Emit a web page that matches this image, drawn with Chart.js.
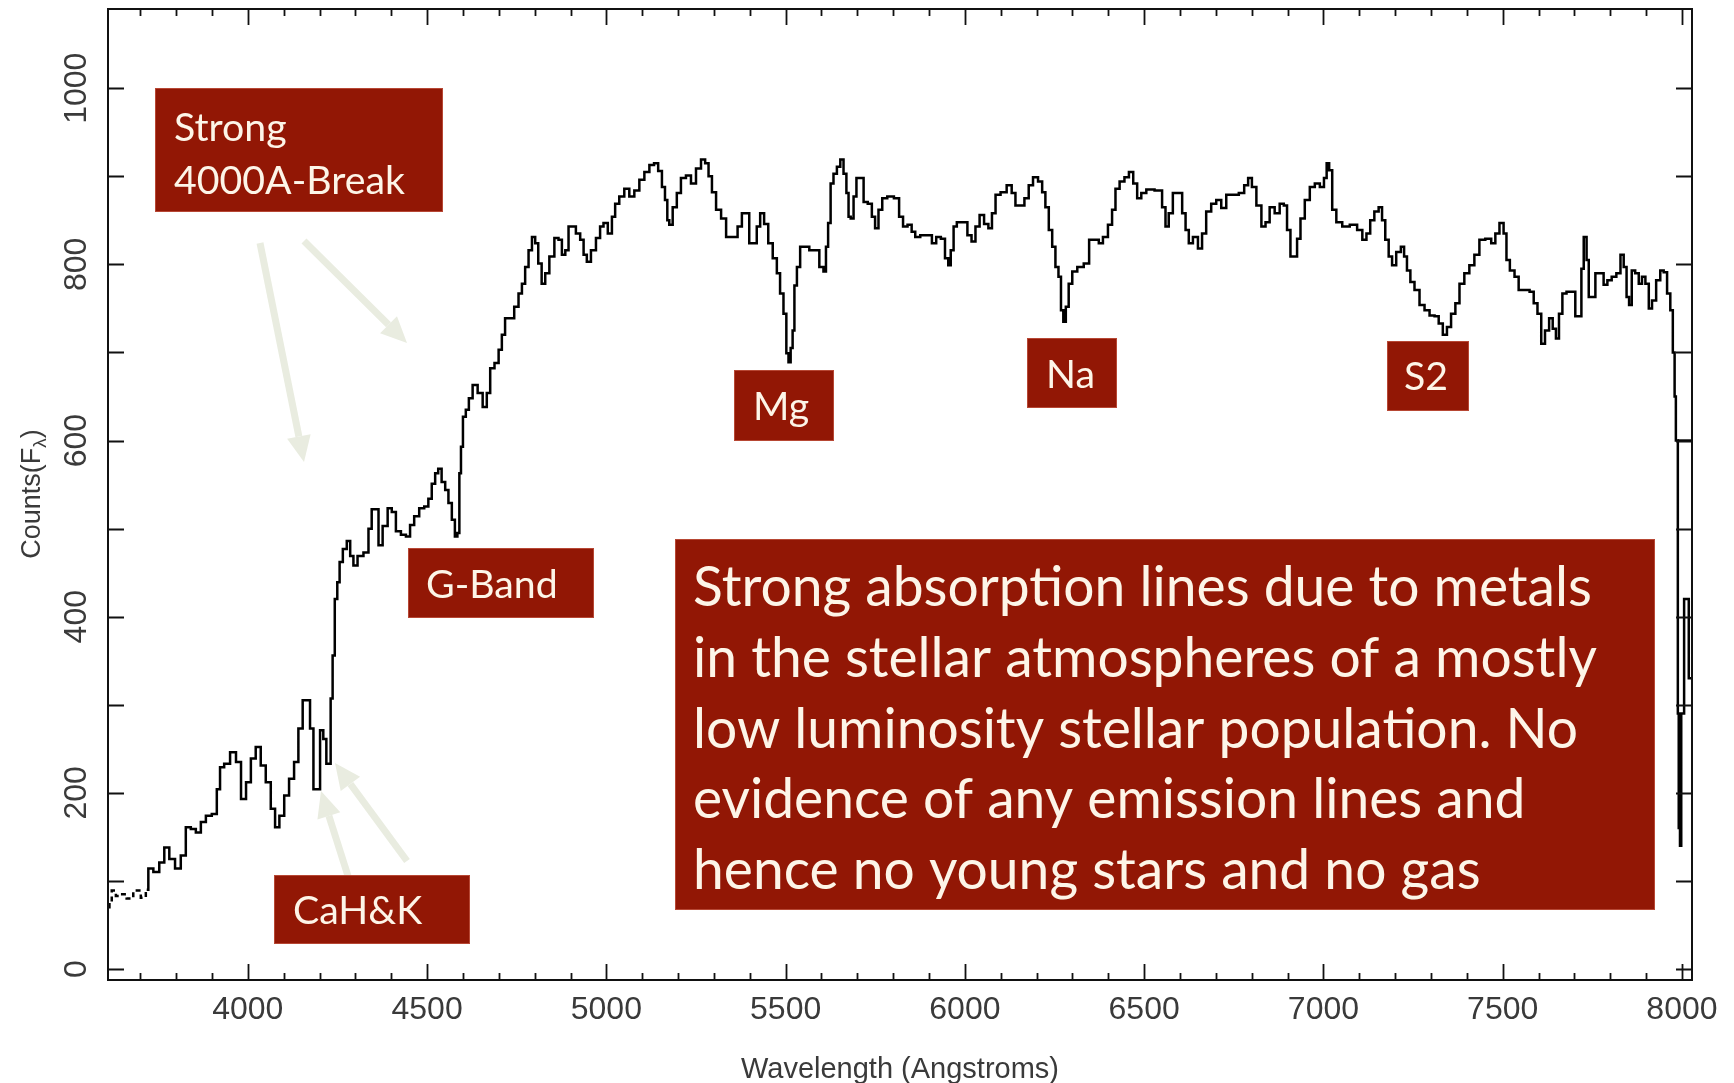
<!DOCTYPE html>
<html>
<head>
<meta charset="utf-8">
<script src="https://cdn.jsdelivr.net/npm/chart.js@4.4.0/dist/chart.umd.min.js"></script>
<style>
  html, body { margin: 0; padding: 0; background: #fff; }
  canvas { display: block; }
</style>
</head>
<body>
<canvas id="spectrum" width="1734" height="1083"></canvas>
<script>
// spectrum (Angstroms, counts)
const wavelength = [
  3612, 3616, 3625, 3639, 3653, 3671, 3690, 3713, 3718, 3727,
  3746, 3760, 3774, 3788, 3806, 3820, 3834, 3848, 3862, 3876,
  3890, 3909, 3918, 3927, 3941, 3960, 3974, 3988, 4002, 4015,
  4029, 4043, 4057, 4071, 4081, 4095, 4108, 4122, 4136, 4146,
  4160, 4169, 4178, 4188, 4197, 4206, 4215, 4223, 4228, 4234,
  4239, 4246, 4253, 4259, 4271, 4281, 4290, 4299, 4313, 4332,
  4341, 4350, 4360, 4369, 4383, 4397, 4406, 4420, 4434, 4448,
  4457, 4471, 4485, 4499, 4508, 4518, 4527, 4535, 4546, 4555,
  4564, 4574, 4581, 4588, 4592, 4597, 4603, 4613, 4620, 4634,
  4648, 4662, 4671, 4681, 4695, 4704, 4713, 4722, 4736, 4750,
  4760, 4769, 4778, 4788, 4797, 4806, 4814, 4825, 4834, 4848,
  4862, 4871, 4881, 4890, 4899, 4908, 4922, 4932, 4941, 4950,
  4964, 4978, 4987, 4997, 5011, 5020, 5029, 5043, 5057, 5071,
  5085, 5099, 5113, 5127, 5139, 5150, 5160, 5167, 5173, 5178,
  5192, 5201, 5215, 5229, 5243, 5257, 5271, 5280, 5290, 5299,
  5313, 5327, 5341, 5359, 5373, 5383, 5394, 5403, 5415, 5424,
  5434, 5446, 5457, 5471, 5480, 5489, 5499, 5505, 5511, 5517,
  5522, 5527, 5536, 5545, 5559, 5573, 5587, 5601, 5610, 5615,
  5622, 5629, 5638, 5648, 5657, 5666, 5673, 5678, 5685, 5694,
  5701, 5713, 5722, 5736, 5745, 5754, 5764, 5775, 5792, 5812,
  5821, 5834, 5846, 5857, 5866, 5885, 5903, 5913, 5927, 5939,
  5950, 5957, 5964, 5973, 5982, 6001, 6013, 6024, 6035, 6047,
  6060, 6071, 6080, 6091, 6108, 6125, 6136, 6146, 6159, 6173,
  6183, 6197, 6211, 6220, 6229, 6239, 6248, 6257, 6265, 6271,
  6278, 6285, 6294, 6305, 6322, 6341, 6352, 6369, 6378, 6392,
  6406, 6415, 6425, 6438, 6452, 6463, 6476, 6485, 6499, 6513,
  6545, 6555, 6564, 6573, 6587, 6601, 6611, 6620, 6629, 6643,
  6657, 6666, 6680, 6694, 6708, 6722, 6736, 6755, 6773, 6785,
  6795, 6806, 6820, 6834, 6843, 6857, 6871, 6885, 6894, 6903,
  6913, 6922, 6931, 6941, 6955, 6969, 6983, 6997, 7006, 7012,
  7020, 7029, 7043, 7062, 7085, 7103, 7114, 7126, 7135, 7149,
  7159, 7168, 7177, 7187, 7196, 7210, 7222, 7228, 7238, 7247,
  7261, 7275, 7289, 7303, 7317, 7326, 7340, 7349, 7363, 7373,
  7386, 7400, 7414, 7428, 7442, 7461, 7475, 7484, 7498, 7507,
  7514, 7526, 7540, 7549, 7568, 7582, 7591, 7603, 7612, 7624,
  7635, 7644, 7653, 7661, 7672, 7684, 7698, 7707, 7718, 7721,
  7731, 7737, 7743, 7754, 7763, 7777, 7786, 7798, 7810, 7824,
  7833, 7842, 7849, 7856, 7864, 7875, 7884, 7893, 7903, 7912,
  7921, 7935, 7944, 7954, 7963, 7972, 7977, 7982, 7984, 7988,
  7989, 7993, 7996, 8000, 8012, 8016, 8022, 8027
];
const counts = [
  70, 76, 89, 83, 85, 80, 89, 81, 90, 114,
  110, 121, 138, 125, 114, 129, 161, 159, 155, 167,
  174, 176, 204, 229, 233, 246, 235, 193, 212, 239,
  252, 231, 212, 182, 161, 174, 197, 216, 235, 273,
  305, 305, 273, 204, 204, 271, 261, 233, 233, 307,
  356, 420, 439, 462, 477, 486, 469, 458, 469, 473,
  500, 522, 522, 481, 503, 523, 519, 497, 493, 491,
  504, 514, 523, 525, 534, 551, 563, 568, 553, 544,
  529, 510, 491, 495, 563, 593, 627, 635, 648, 663,
  654, 638, 654, 682, 688, 703, 720, 739, 739, 752,
  767, 778, 797, 816, 831, 824, 801, 778, 790, 809,
  830, 828, 811, 816, 843, 843, 835, 828, 811, 803,
  816, 830, 843, 847, 835, 854, 869, 877, 886, 877,
  884, 896, 905, 913, 915, 906, 888, 873, 850, 845,
  865, 881, 898, 901, 892, 909, 919, 915, 900, 882,
  862, 852, 831, 831, 843, 858, 858, 824, 824, 843,
  858, 846, 824, 807, 790, 767, 744, 699, 689, 705,
  725, 776, 797, 820, 820, 816, 816, 797, 792, 820,
  847, 892, 903, 911, 919, 903, 881, 854, 852, 877,
  898, 898, 871, 869, 854, 841, 862, 875, 877, 875,
  854, 843, 845, 837, 831, 833, 833, 824, 831, 829,
  807, 799, 816, 843, 848, 848, 833, 826, 843, 856,
  846, 841, 858, 879, 882, 890, 881, 867, 867, 875,
  890, 899, 894, 882, 865, 839, 820, 797, 786, 748,
  735, 752, 778, 792, 797, 801, 828, 828, 824, 831,
  845, 862, 886, 894, 899, 905, 892, 875, 881, 885,
  884, 865, 843, 858, 881, 881, 858, 839, 824, 831,
  818, 835, 860, 869, 873, 864, 879, 879, 881, 890,
  898, 888, 867, 843, 848, 865, 858, 869, 867, 839,
  809, 809, 829, 852, 873, 888, 892, 888, 898, 915,
  907, 862, 848, 843, 845, 839, 828, 835, 850, 860,
  865, 850, 828, 809, 799, 814, 820, 809, 793, 780,
  771, 754, 748, 742, 741, 733, 720, 729, 744, 756,
  778, 790, 799, 811, 828, 829, 824, 835, 847, 835,
  805, 793, 786, 771, 771, 769, 756, 744, 710, 725,
  739, 727, 716, 744, 767, 769, 769, 741, 741, 795,
  831, 805, 763, 763, 790, 790, 777, 782, 786, 790,
  811, 797, 763, 754, 793, 790, 778, 786, 778, 750,
  759, 782, 793, 791, 767, 748, 700, 650, 600, 600,
  290, 160, 140, 290, 420, 420, 330, 330
];
// the flat piece at the red end that runs into the frame
const edgeWavelength = [7988, 8030];
const edgeCounts = [600, 600];

const xTickLabels = [4000, 4500, 5000, 5500, 6000, 6500, 7000, 7500, 8000];
const yTickLabels = [0, 200, 400, 600, 800, 1000];
const xMinorStep = 100;
const yMinorStep = 100;

const xTitle = "Wavelength (Angstroms)";
const yTitle = "Counts(F";
const yTitleSub = "\u03bb";

const bigNote = [
  "Strong absorption lines due to metals",
  "in the stellar atmospheres of a mostly",
  "low luminosity stellar population. No",
  "evidence of any emission lines and",
  "hence no young stars and no gas"
];

// boxes, in canvas pixels
const notes = [
  { lines: ["Strong", "4000A-Break"], box: [155, 88, 288, 124], tx: 174, ty: [128, 181] },
  { lines: ["G-Band"], box: [408, 548, 186, 70], tx: 426, ty: [585] },
  { lines: ["CaH&K"], box: [274, 875, 196, 69], tx: 293, ty: [911] },
  { lines: ["Mg"], box: [734, 370, 100, 71], tx: 753, ty: [407] },
  { lines: ["Na"], box: [1027, 338, 90, 70], tx: 1046, ty: [375] },
  { lines: ["S2"], box: [1387, 341, 82, 70], tx: 1404, ty: [377] }
];
const bigBox = { box: [675, 539, 980, 371], tx: 693, ty: [589, 660, 731, 801, 872] };

const arrows = [
  [260, 243, 304, 462],
  [304, 241, 407, 343],
  [348, 876, 321, 791],
  [407, 861, 335, 763]
];

const boxColour = "#921705";
const noteText = "#fdf5e8";
const arrowColour = "#e9ece0";
const noteFont = '"Lato", "Open Sans", sans-serif';
const axisFont = '"Liberation Sans", "DejaVu Sans", sans-serif';

function fitSize(ctx, text, family, width) {
  ctx.font = `100px ${family}`;
  return (100 * width) / ctx.measureText(text).width;
}

function drawArrow(ctx, x0, y0, x1, y1) {
  const ang = Math.atan2(y1 - y0, x1 - x0);
  const head = 26, half = 12;
  const bx = x1 - head * Math.cos(ang);
  const by = y1 - head * Math.sin(ang);
  ctx.strokeStyle = arrowColour;
  ctx.fillStyle = arrowColour;
  ctx.lineWidth = 7;
  ctx.lineCap = "butt";
  ctx.beginPath();
  ctx.moveTo(x0, y0);
  ctx.lineTo(bx, by);
  ctx.stroke();
  ctx.beginPath();
  ctx.moveTo(x1, y1);
  ctx.lineTo(bx + half * Math.sin(ang), by - half * Math.cos(ang));
  ctx.lineTo(bx - half * Math.sin(ang), by + half * Math.cos(ang));
  ctx.closePath();
  ctx.fill();
}

function drawBox(ctx, b) {
  ctx.fillStyle = boxColour;
  ctx.fillRect(b[0], b[1], b[2], b[3]);
  ctx.strokeStyle = "rgba(220, 120, 100, 0.5)";
  ctx.lineWidth = 1;
  ctx.strokeRect(b[0] + 0.5, b[1] + 0.5, b[2] - 1, b[3] - 1);
}

// PGPLOT-like frame: box on all four sides, ticks pointing inwards
const framePlugin = {
  id: "frame",
  afterDatasetsDraw(chart) {
    const { ctx, chartArea: a, scales } = chart;
    const x = scales.x, y = scales.y;
    ctx.save();
    ctx.strokeStyle = "#111";
    ctx.lineWidth = 2;
    ctx.strokeRect(a.left, a.top, a.right - a.left, a.bottom - a.top);

    ctx.lineWidth = 1.8;
    ctx.beginPath();
    for (let v = Math.ceil(x.min / xMinorStep) * xMinorStep; v <= x.max; v += xMinorStep) {
      const px = Math.round(x.getPixelForValue(v)) + 0.5;
      const len = v % 500 === 0 ? 16 : 7;
      ctx.moveTo(px, a.bottom); ctx.lineTo(px, a.bottom - len);
      ctx.moveTo(px, a.top); ctx.lineTo(px, a.top + len);
    }
    for (let v = Math.ceil(y.min / yMinorStep) * yMinorStep; v <= y.max; v += yMinorStep) {
      const py = Math.round(y.getPixelForValue(v)) + 0.5;
      ctx.moveTo(a.left, py); ctx.lineTo(a.left + 16, py);
      ctx.moveTo(a.right, py); ctx.lineTo(a.right - 16, py);
    }
    ctx.stroke();

    ctx.fillStyle = "#3a3a3a";
    ctx.font = `32px ${axisFont}`;
    ctx.textAlign = "center";
    ctx.textBaseline = "middle";
    xTickLabels.forEach(v => ctx.fillText(String(v), x.getPixelForValue(v), 1010));
    yTickLabels.forEach(v => {
      ctx.save();
      ctx.translate(77, y.getPixelForValue(v));
      ctx.rotate(-Math.PI / 2);
      ctx.fillText(String(v), 0, 0);
      ctx.restore();
    });

    ctx.font = `29px ${axisFont}`;
    ctx.fillText(xTitle, (a.left + a.right) / 2, 1070);

    // y title with the lambda subscript
    ctx.save();
    ctx.translate(33, 494);
    ctx.rotate(-Math.PI / 2);
    ctx.font = `27px ${axisFont}`;
    const w1 = ctx.measureText(yTitle).width;
    ctx.font = `19px ${axisFont}`;
    const w2 = ctx.measureText(yTitleSub).width;
    ctx.font = `27px ${axisFont}`;
    const w3 = ctx.measureText(")").width;
    const cx = -(w1 + w2 + w3) / 2;
    ctx.textAlign = "left";
    ctx.fillText(yTitle, cx, 0);
    ctx.font = `19px ${axisFont}`;
    ctx.fillText(yTitleSub, cx + w1, 8);
    ctx.font = `27px ${axisFont}`;
    ctx.fillText(")", cx + w1 + w2, 0);
    ctx.restore();

    ctx.restore();
  }
};

const notesPlugin = {
  id: "notes",
  afterDraw(chart) {
    const ctx = chart.ctx;
    ctx.save();
    arrows.forEach(a => drawArrow(ctx, a[0], a[1], a[2], a[3]));

    const small = fitSize(ctx, "4000A-Break", noteFont, 231);
    ctx.textAlign = "left";
    ctx.textBaseline = "alphabetic";
    notes.forEach(n => {
      drawBox(ctx, n.box);
      ctx.fillStyle = noteText;
      ctx.font = `${small}px ${noteFont}`;
      n.lines.forEach((t, i) => ctx.fillText(t, n.tx, n.ty[i] + small * 0.34));
    });

    const big = fitSize(ctx, bigNote[0], noteFont, 899);
    drawBox(ctx, bigBox.box);
    ctx.fillStyle = noteText;
    ctx.font = `${big}px ${noteFont}`;
    bigNote.forEach((t, i) => ctx.fillText(t, bigBox.tx, bigBox.ty[i] + big * 0.3));
    ctx.restore();
  }
};

const points = wavelength.map((w, i) => ({ x: w, y: counts[i] }));
const edge = edgeWavelength.map((w, i) => ({ x: w, y: edgeCounts[i] }));

new Chart(document.getElementById("spectrum"), {
  type: "line",
  data: {
    datasets: [
      {
        data: points,
        borderColor: "#000",
        borderWidth: 2.5,
        pointRadius: 0,
        stepped: "middle",
        fill: false,
        segment: {
          borderDash: ctx => (ctx.p1DataIndex <= 8 ? [5, 4] : undefined)
        }
      },
      {
        data: edge,
        borderColor: "#000",
        borderWidth: 2.5,
        pointRadius: 0,
        fill: false
      }
    ]
  },
  options: {
    responsive: false,
    animation: false,
    events: [],
    layout: { padding: { left: 108, right: 42, top: 9, bottom: 103 } },
    plugins: { legend: { display: false }, tooltip: { enabled: false } },
    scales: {
      x: { type: "linear", min: 3610, max: 8028, display: false },
      y: { type: "linear", min: -12.5, max: 1090, display: false }
    }
  },
  plugins: [framePlugin, notesPlugin]
});
</script>
</body>
</html>
